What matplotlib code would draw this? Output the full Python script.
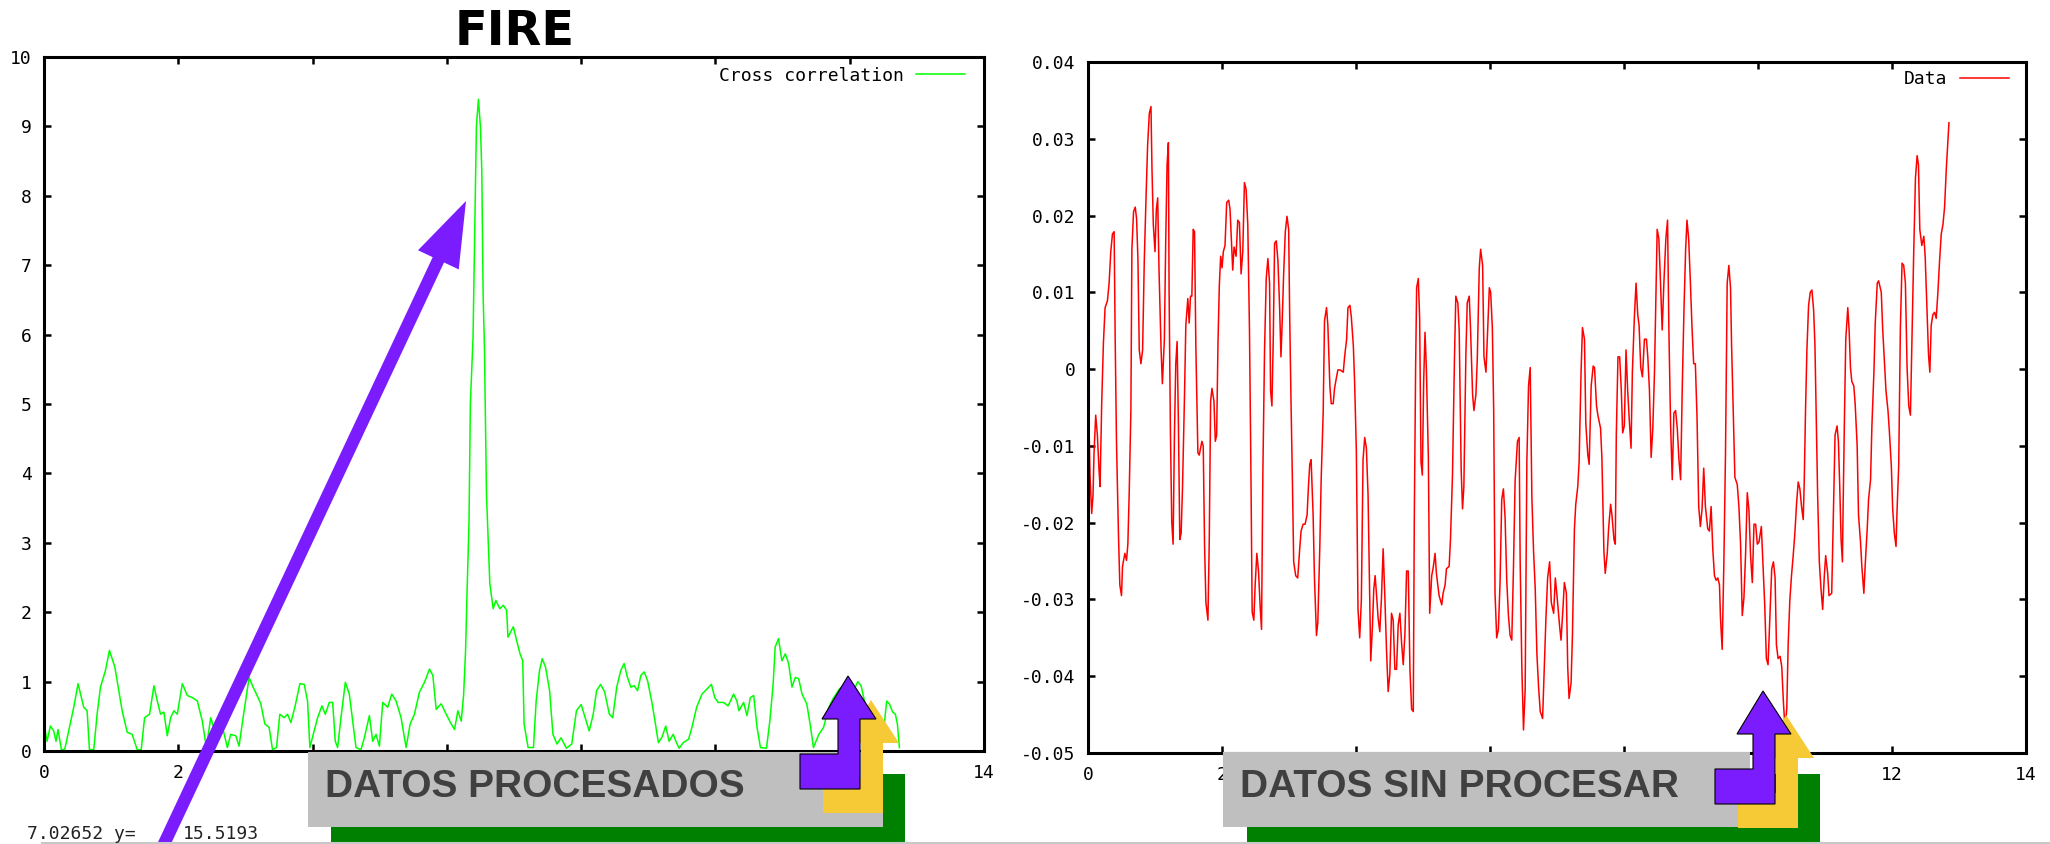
import matplotlib
matplotlib.use("Agg")
import matplotlib.pyplot as plt
from matplotlib.transforms import Affine2D
from matplotlib.patches import Rectangle, Polygon, FancyArrow
from matplotlib.lines import Line2D

# cross correlation (left panel)
corr_x = [0.000, 0.045, 0.095, 0.144, 0.179, 0.209, 0.259, 0.308, 0.378, 0.443,
          0.507, 0.592, 0.642, 0.677, 0.741, 0.791, 0.841, 0.915, 0.975, 1.055,
          1.114, 1.164, 1.239, 1.313, 1.388, 1.448, 1.498, 1.572, 1.637, 1.687,
          1.736, 1.786, 1.836, 1.886, 1.935, 1.985, 2.060, 2.134, 2.209, 2.284,
          2.358, 2.418, 2.483, 2.557, 2.647, 2.731, 2.781, 2.856, 2.905, 2.965,
          3.055, 3.114, 3.164, 3.229, 3.289, 3.353, 3.403, 3.463, 3.512, 3.577,
          3.627, 3.677, 3.736, 3.811, 3.876, 3.925, 3.960, 4.010, 4.075, 4.139,
          4.189, 4.249, 4.299, 4.338, 4.373, 4.423, 4.488, 4.547, 4.597, 4.647,
          4.721, 4.771, 4.846, 4.896, 4.945, 4.995, 5.045, 5.119, 5.179, 5.244,
          5.318, 5.393, 5.453, 5.517, 5.592, 5.667, 5.741, 5.791, 5.841, 5.915,
          5.990, 6.065, 6.114, 6.164, 6.214, 6.249, 6.279, 6.303, 6.330, 6.350,
          6.390, 6.410, 6.440, 6.470, 6.500, 6.520, 6.540, 6.560, 6.590, 6.640,
          6.690, 6.730, 6.790, 6.840, 6.890, 6.910, 6.990, 7.040, 7.090, 7.130,
          7.150, 7.210, 7.290, 7.330, 7.380, 7.420, 7.470, 7.530, 7.580, 7.640,
          7.700, 7.780, 7.860, 7.930, 8.000, 8.060, 8.120, 8.180, 8.230, 8.290,
          8.350, 8.420, 8.470, 8.530, 8.590, 8.640, 8.690, 8.740, 8.790, 8.840,
          8.890, 8.940, 8.990, 9.050, 9.100, 9.150, 9.200, 9.260, 9.310, 9.370,
          9.420, 9.460, 9.520, 9.600, 9.650, 9.720, 9.800, 9.870, 9.940, 9.990,
          10.040, 10.120, 10.190, 10.270, 10.320, 10.350, 10.420, 10.470, 10.520, 10.570,
          10.620, 10.670, 10.760, 10.810, 10.860, 10.890, 10.940, 10.990, 11.040, 11.090,
          11.140, 11.190, 11.240, 11.290, 11.360, 11.410, 11.460, 11.540, 11.610, 11.690,
          11.750, 11.850, 11.950, 12.050, 12.120, 12.170, 12.220, 12.300, 12.400, 12.490,
          12.550, 12.590, 12.640, 12.680, 12.710, 12.740]
corr_y = [0.39, 0.14, 0.36, 0.29, 0.14, 0.31, 0.02, 0.02, 0.34, 0.63,
          0.97, 0.63, 0.58, 0.02, 0.02, 0.53, 0.92, 1.16, 1.45, 1.21,
          0.87, 0.58, 0.27, 0.24, 0.02, 0.02, 0.48, 0.53, 0.94, 0.72,
          0.53, 0.56, 0.22, 0.48, 0.58, 0.53, 0.97, 0.80, 0.77, 0.72,
          0.43, 0.05, 0.48, 0.24, 0.39, 0.05, 0.24, 0.22, 0.07, 0.48,
          1.06, 0.92, 0.82, 0.68, 0.39, 0.34, 0.02, 0.05, 0.53, 0.48,
          0.53, 0.41, 0.63, 0.97, 0.96, 0.72, 0.05, 0.24, 0.48, 0.65,
          0.53, 0.70, 0.70, 0.14, 0.05, 0.48, 0.99, 0.82, 0.43, 0.05,
          0.02, 0.19, 0.51, 0.14, 0.24, 0.07, 0.70, 0.63, 0.82, 0.72,
          0.48, 0.05, 0.39, 0.53, 0.85, 0.99, 1.18, 1.09, 0.60, 0.68,
          0.53, 0.39, 0.31, 0.58, 0.43, 0.80, 1.45, 2.37, 3.30, 5.00,
          5.96, 7.20, 9.00, 9.39, 9.00, 8.38, 6.58, 5.80, 3.70, 2.41,
          2.05, 2.17, 2.05, 2.10, 2.03, 1.64, 1.79, 1.59, 1.40, 1.30,
          0.39, 0.05, 0.05, 0.72, 1.16, 1.33, 1.21, 0.87, 0.24, 0.10,
          0.19, 0.04, 0.10, 0.58, 0.67, 0.48, 0.29, 0.53, 0.87, 0.96,
          0.85, 0.53, 0.48, 0.92, 1.16, 1.26, 1.06, 0.92, 0.94, 0.87,
          1.09, 1.14, 1.01, 0.72, 0.43, 0.12, 0.19, 0.36, 0.14, 0.24,
          0.12, 0.04, 0.12, 0.17, 0.34, 0.63, 0.82, 0.89, 0.96, 0.77,
          0.70, 0.70, 0.65, 0.82, 0.72, 0.58, 0.70, 0.51, 0.77, 0.80,
          0.34, 0.05, 0.04, 0.43, 0.97, 1.50, 1.62, 1.30, 1.40, 1.26,
          0.92, 1.06, 1.04, 0.82, 0.68, 0.39, 0.05, 0.24, 0.34, 0.63,
          0.75, 0.90, 0.95, 0.85, 1.00, 0.94, 0.72, 0.45, 0.25, 0.14,
          0.72, 0.68, 0.56, 0.53, 0.39, 0.05]

# raw data (right panel)
data_x = [0.000, 0.005, 0.030, 0.055, 0.075, 0.090, 0.115, 0.140, 0.165, 0.180,
          0.205, 0.230, 0.255, 0.290, 0.315, 0.340, 0.365, 0.390, 0.405, 0.425,
          0.455, 0.475, 0.500, 0.515, 0.550, 0.575, 0.595, 0.615, 0.640, 0.655,
          0.680, 0.705, 0.725, 0.745, 0.765, 0.790, 0.815, 0.840, 0.865, 0.890,
          0.915, 0.940, 0.955, 0.975, 1.000, 1.020, 1.040, 1.060, 1.090, 1.110,
          1.140, 1.160, 1.180, 1.200, 1.210, 1.230, 1.250, 1.270, 1.290, 1.310,
          1.330, 1.350, 1.370, 1.390, 1.410, 1.440, 1.460, 1.490, 1.510, 1.530,
          1.550, 1.570, 1.590, 1.610, 1.640, 1.660, 1.700, 1.720, 1.740, 1.760,
          1.790, 1.810, 1.830, 1.850, 1.880, 1.900, 1.920, 1.940, 1.960, 1.980,
          2.000, 2.020, 2.045, 2.070, 2.100, 2.120, 2.140, 2.160, 2.180, 2.210,
          2.235, 2.260, 2.285, 2.310, 2.335, 2.360, 2.385, 2.410, 2.430, 2.450,
          2.475, 2.495, 2.520, 2.545, 2.570, 2.590, 2.610, 2.635, 2.660, 2.685,
          2.710, 2.725, 2.745, 2.765, 2.785, 2.810, 2.835, 2.860, 2.880, 2.900,
          2.920, 2.945, 2.970, 2.995, 3.010, 3.030, 3.050, 3.070, 3.100, 3.130,
          3.160, 3.180, 3.210, 3.240, 3.270, 3.290, 3.310, 3.330, 3.360, 3.380,
          3.410, 3.430, 3.460, 3.480, 3.510, 3.530, 3.560, 3.580, 3.610, 3.630,
          3.660, 3.680, 3.710, 3.730, 3.760, 3.810, 3.830, 3.860, 3.880, 3.910,
          3.930, 3.960, 3.980, 4.005, 4.030, 4.055, 4.080, 4.105, 4.130, 4.155,
          4.180, 4.205, 4.220, 4.245, 4.265, 4.285, 4.305, 4.330, 4.355, 4.380,
          4.405, 4.430, 4.455, 4.480, 4.505, 4.530, 4.555, 4.580, 4.605, 4.630,
          4.655, 4.680, 4.705, 4.730, 4.755, 4.780, 4.805, 4.830, 4.855, 4.870,
          4.890, 4.905, 4.930, 4.950, 4.970, 4.990, 5.010, 5.030, 5.050, 5.080,
          5.100, 5.130, 5.150, 5.180, 5.200, 5.240, 5.280, 5.300, 5.330, 5.350,
          5.390, 5.410, 5.440, 5.470, 5.490, 5.520, 5.540, 5.570, 5.590, 5.610,
          5.640, 5.660, 5.690, 5.710, 5.740, 5.760, 5.790, 5.810, 5.840, 5.860,
          5.890, 5.910, 5.940, 5.960, 5.990, 6.010, 6.035, 6.055, 6.075, 6.100,
          6.125, 6.150, 6.175, 6.200, 6.225, 6.250, 6.275, 6.300, 6.325, 6.350,
          6.375, 6.410, 6.435, 6.450, 6.475, 6.500, 6.525, 6.550, 6.575, 6.600,
          6.625, 6.650, 6.675, 6.700, 6.725, 6.750, 6.785, 6.810, 6.835, 6.860,
          6.890, 6.915, 6.950, 6.975, 7.000, 7.040, 7.060, 7.090, 7.110, 7.140,
          7.160, 7.180, 7.210, 7.230, 7.260, 7.280, 7.310, 7.330, 7.360, 7.380,
          7.410, 7.430, 7.460, 7.480, 7.510, 7.540, 7.560, 7.590, 7.610, 7.650,
          7.670, 7.700, 7.720, 7.750, 7.770, 7.800, 7.820, 7.850, 7.870, 7.885,
          7.910, 7.935, 7.960, 7.980, 8.005, 8.030, 8.055, 8.080, 8.105, 8.125,
          8.155, 8.180, 8.205, 8.225, 8.250, 8.275, 8.305, 8.335, 8.355, 8.380,
          8.405, 8.430, 8.455, 8.475, 8.495, 8.520, 8.540, 8.570, 8.595, 8.625,
          8.650, 8.670, 8.695, 8.720, 8.745, 8.770, 8.795, 8.820, 8.845, 8.870,
          8.895, 8.920, 8.940, 8.965, 8.990, 9.015, 9.040, 9.065, 9.090, 9.115,
          9.140, 9.165, 9.190, 9.215, 9.250, 9.275, 9.300, 9.325, 9.350, 9.375,
          9.400, 9.425, 9.440, 9.465, 9.490, 9.515, 9.540, 9.565, 9.590, 9.605,
          9.630, 9.655, 9.690, 9.715, 9.740, 9.765, 9.790, 9.815, 9.840, 9.865,
          9.890, 9.915, 9.940, 9.965, 9.990, 10.015, 10.050, 10.075, 10.100, 10.125,
          10.150, 10.175, 10.205, 10.230, 10.255, 10.275, 10.300, 10.330, 10.355, 10.380,
          10.405, 10.430, 10.450, 10.475, 10.500, 10.525, 10.550, 10.575, 10.600, 10.625,
          10.650, 10.675, 10.690, 10.710, 10.730, 10.755, 10.780, 10.805, 10.830, 10.850,
          10.870, 10.890, 10.915, 10.940, 10.965, 10.990, 11.010, 11.040, 11.060, 11.100,
          11.120, 11.150, 11.180, 11.200, 11.220, 11.240, 11.260, 11.270, 11.290, 11.310,
          11.340, 11.360, 11.380, 11.400, 11.430, 11.450, 11.480, 11.500, 11.530, 11.550,
          11.580, 11.600, 11.630, 11.650, 11.680, 11.700, 11.730, 11.750, 11.780, 11.800,
          11.840, 11.860, 11.890, 11.910, 11.940, 11.960, 11.990, 12.010, 12.035, 12.060,
          12.075, 12.100, 12.125, 12.150, 12.175, 12.200, 12.225, 12.250, 12.275, 12.300,
          12.325, 12.350, 12.375, 12.395, 12.415, 12.445, 12.475, 12.495, 12.520, 12.545,
          12.565, 12.585, 12.610, 12.635, 12.660, 12.685, 12.710, 12.735, 12.760, 12.785,
          12.810, 12.835, 12.850]
data_y = [0.0109, -0.0030, -0.0138, -0.0188, -0.0164, -0.0109, -0.0060, -0.0086, -0.0132, -0.0153,
          -0.0042, 0.0034, 0.0080, 0.0089, 0.0112, 0.0153, 0.0176, 0.0179, 0.0045, -0.0094,
          -0.0217, -0.0281, -0.0295, -0.0257, -0.0240, -0.0249, -0.0228, -0.0161, -0.0054, 0.0156,
          0.0205, 0.0211, 0.0196, 0.0144, 0.0025, 0.0007, 0.0025, 0.0141, 0.0220, 0.0292,
          0.0333, 0.0342, 0.0260, 0.0188, 0.0153, 0.0208, 0.0223, 0.0129, 0.0028, -0.0019,
          0.0039, 0.0167, 0.0266, 0.0295, 0.0106, -0.0080, -0.0199, -0.0228, -0.0086, 0.0007,
          0.0036, -0.0074, -0.0222, -0.0214, -0.0156, -0.0036, 0.0057, 0.0092, 0.0060, 0.0095,
          0.0095, 0.0182, 0.0179, 0.0028, -0.0109, -0.0112, -0.0094, -0.0100, -0.0231, -0.0304,
          -0.0327, -0.0222, -0.0042, -0.0025, -0.0042, -0.0094, -0.0086, 0.0034, 0.0109, 0.0147,
          0.0132, 0.0153, 0.0161, 0.0217, 0.0220, 0.0208, 0.0170, 0.0129, 0.0159, 0.0147,
          0.0194, 0.0191, 0.0124, 0.0153, 0.0243, 0.0234, 0.0188, 0.0051, -0.0118, -0.0316,
          -0.0327, -0.0281, -0.0240, -0.0263, -0.0310, -0.0339, -0.0135, 0.0025, 0.0118, 0.0144,
          0.0112, -0.0028, -0.0048, 0.0039, 0.0164, 0.0167, 0.0141, 0.0080, 0.0016, 0.0066,
          0.0124, 0.0179, 0.0199, 0.0182, 0.0071, -0.0042, -0.0141, -0.0251, -0.0269, -0.0272,
          -0.0234, -0.0211, -0.0202, -0.0202, -0.0190, -0.0153, -0.0124, -0.0118, -0.0190, -0.0272,
          -0.0347, -0.0330, -0.0231, -0.0144, -0.0057, 0.0063, 0.0080, 0.0057, -0.0022, -0.0045,
          -0.0045, -0.0025, -0.0010, -0.0001, -0.0001, -0.0004, 0.0016, 0.0039, 0.0080, 0.0083,
          0.0068, 0.0031, -0.0019, -0.0106, -0.0313, -0.0350, -0.0301, -0.0118, -0.0089, -0.0103,
          -0.0164, -0.0295, -0.0380, -0.0336, -0.0287, -0.0269, -0.0292, -0.0324, -0.0342, -0.0298,
          -0.0234, -0.0295, -0.0365, -0.0420, -0.0397, -0.0318, -0.0327, -0.0391, -0.0391, -0.0333,
          -0.0318, -0.0356, -0.0385, -0.0345, -0.0263, -0.0263, -0.0391, -0.0443, -0.0446, -0.0196,
          0.0004, 0.0106, 0.0118, 0.0066, -0.0121, -0.0138, -0.0016, 0.0048, 0.0002, -0.0115,
          -0.0318, -0.0269, -0.0260, -0.0240, -0.0266, -0.0295, -0.0307, -0.0292, -0.0281, -0.0260,
          -0.0257, -0.0222, -0.0138, 0.0016, 0.0095, 0.0086, 0.0051, -0.0132, -0.0182, -0.0153,
          0.0019, 0.0086, 0.0095, 0.0051, -0.0033, -0.0054, -0.0033, 0.0013, 0.0132, 0.0156,
          0.0135, 0.0016, -0.0004, 0.0039, 0.0106, 0.0100, 0.0054, -0.0054, -0.0292, -0.0350,
          -0.0339, -0.0278, -0.0170, -0.0156, -0.0193, -0.0275, -0.0321, -0.0347, -0.0353, -0.0260,
          -0.0145, -0.0094, -0.0089, -0.0249, -0.0388, -0.0470, -0.0417, -0.0121, -0.0022, 0.0002,
          -0.0167, -0.0237, -0.0286, -0.0371, -0.0414, -0.0446, -0.0455, -0.0388, -0.0324, -0.0272,
          -0.0251, -0.0304, -0.0318, -0.0272, -0.0295, -0.0336, -0.0353, -0.0310, -0.0278, -0.0292,
          -0.0388, -0.0429, -0.0409, -0.0348, -0.0208, -0.0176, -0.0153, -0.0121, -0.0001, 0.0054,
          0.0039, -0.0071, -0.0112, -0.0124, -0.0022, 0.0004, 0.0002, -0.0048, -0.0060, -0.0077,
          -0.0115, -0.0237, -0.0266, -0.0240, -0.0208, -0.0176, -0.0190, -0.0222, -0.0228, -0.0086,
          0.0016, 0.0016, -0.0028, -0.0083, -0.0074, 0.0025, -0.0028, -0.0068, -0.0103, -0.0004,
          0.0068, 0.0112, 0.0071, 0.0057, 0.0002, -0.0010, 0.0039, 0.0039, 0.0016, -0.0028,
          -0.0115, -0.0077, -0.0004, 0.0092, 0.0182, 0.0170, 0.0124, 0.0051, 0.0112, 0.0170,
          0.0194, 0.0051, -0.0071, -0.0144, -0.0057, -0.0054, -0.0077, -0.0118, -0.0144, -0.0022,
          0.0077, 0.0156, 0.0194, 0.0170, 0.0115, 0.0054, 0.0007, 0.0007, -0.0063, -0.0179,
          -0.0205, -0.0182, -0.0129, -0.0179, -0.0208, -0.0211, -0.0179, -0.0234, -0.0269, -0.0275,
          -0.0272, -0.0281, -0.0324, -0.0365, -0.0255, -0.0109, 0.0112, 0.0135, 0.0106, 0.0034,
          -0.0054, -0.0141, -0.0150, -0.0179, -0.0228, -0.0321, -0.0298, -0.0240, -0.0161, -0.0184,
          -0.0245, -0.0278, -0.0202, -0.0202, -0.0228, -0.0225, -0.0205, -0.0257, -0.0307, -0.0377,
          -0.0385, -0.0327, -0.0260, -0.0251, -0.0272, -0.0359, -0.0377, -0.0374, -0.0388, -0.0435,
          -0.0470, -0.0441, -0.0359, -0.0301, -0.0269, -0.0243, -0.0214, -0.0176, -0.0147, -0.0156,
          -0.0179, -0.0196, -0.0147, -0.0051, 0.0025, 0.0083, 0.0100, 0.0103, 0.0077, 0.0031,
          -0.0063, -0.0164, -0.0251, -0.0286, -0.0313, -0.0269, -0.0243, -0.0266, -0.0295, -0.0292,
          -0.0208, -0.0086, -0.0074, -0.0094, -0.0153, -0.0222, -0.0251, -0.0182, -0.0065, 0.0039,
          0.0080, 0.0051, 0.0002, -0.0016, -0.0022, -0.0045, -0.0100, -0.0190, -0.0225, -0.0257,
          -0.0292, -0.0255, -0.0208, -0.0170, -0.0144, -0.0074, -0.0004, 0.0060, 0.0112, 0.0115,
          0.0100, 0.0054, 0.0004, -0.0028, -0.0054, -0.0080, -0.0126, -0.0182, -0.0214, -0.0231,
          -0.0185, -0.0126, 0.0054, 0.0138, 0.0135, 0.0112, 0.0002, -0.0048, -0.0060, 0.0051,
          0.0156, 0.0249, 0.0278, 0.0266, 0.0182, 0.0161, 0.0173, 0.0147, 0.0083, 0.0019,
          -0.0004, 0.0057, 0.0071, 0.0074, 0.0066, 0.0100, 0.0141, 0.0176, 0.0188, 0.0211,
          0.0260, 0.0298, 0.0321]

x_ticks = [0, 2, 4, 6, 8, 10, 12, 14]
# labels under the gray boxes are not visible in the screenshot
left_xlabels = ["0", "2", "", "", "", "", "", "14"]
right_xlabels = ["0", "2", "", "", "", "", "12", "14"]
left_yticks = [0, 1, 2, 3, 4, 5, 6, 7, 8, 9, 10]
right_yticks = [-0.05, -0.04, -0.03, -0.02, -0.01, 0, 0.01, 0.02, 0.03, 0.04]
right_ylabels = ["-0.05", "-0.04", "-0.03", "-0.02", "-0.01", "0", "0.01", "0.02", "0.03", "0.04"]

W, H = 2050, 844
MONO = "DejaVu Sans Mono"
PURPLE = "#7B1CFF"
YELLOW = "#F6CA36"

plt.rcParams["font.family"] = MONO
plt.rcParams["axes.unicode_minus"] = False

fig = plt.figure(figsize=(W / 100, H / 100), dpi=100)
pix = Affine2D().scale(1.0 / W, -1.0 / H).translate(0, 1) + fig.transFigure


def place(x0, x1, ytop, ybot):
    return [x0 / W, 1 - ybot / H, (x1 - x0) / W, (ybot - ytop) / H]


def style(ax):
    for s in ax.spines.values():
        s.set_linewidth(2.2)
    ax.tick_params(direction="in", length=5, width=1.8, top=True, right=True,
                   labelsize=13, pad=9, colors="black")


ax1 = fig.add_axes(place(44, 984, 57, 751))
ax1.plot(corr_x, corr_y, color="#00FF00", lw=1.1, label="Cross correlation")
ax1.set_xlim(0, 14)
ax1.set_ylim(0, 10)
ax1.set_xticks(x_ticks)
ax1.set_xticklabels(left_xlabels)
ax1.set_yticks(left_yticks)
style(ax1)
ax1.legend(loc="upper right", bbox_to_anchor=(0.980, 0.986), frameon=False,
           markerfirst=False, handlelength=2.7, handletextpad=0.7, borderpad=0,
           borderaxespad=0, prop={"family": MONO, "size": 13})

ax2 = fig.add_axes(place(1088, 2026, 62, 753))
ax2.plot(data_x, data_y, color="#FF0000", lw=1.1, label="Data")
ax2.set_xlim(0, 14)
ax2.set_ylim(-0.05, 0.04)
ax2.set_xticks(x_ticks)
ax2.set_xticklabels(right_xlabels)
ax2.set_yticks(right_yticks)
ax2.set_yticklabels(right_ylabels)
style(ax2)
ax2.legend(loc="upper right", bbox_to_anchor=(0.982, 0.988), frameon=False,
           markerfirst=False, handlelength=2.7, handletextpad=0.7, borderpad=0,
           borderaxespad=0, prop={"family": MONO, "size": 13})

# title over the left panel
fig.text(515 / W, 1 - 45 / H, "FIRE", ha="center", va="baseline",
         fontsize=34.5, fontweight="bold", family="DejaVu Sans", color="black")

# status line and thin rule at the bottom
fig.add_artist(Line2D([42, W], [843, 843], transform=pix, color="#c8c8c8", lw=1.5))
fig.text(27 / W, 1 - 839 / H, "7.02652 y=", fontsize=13, family=MONO, color="#222222")
fig.text(183 / W, 1 - 839 / H, "15.5193", fontsize=13, family=MONO, color="#222222")

# labels with green and gray boxes
for gx0, gx1, bx0, bx1, tx, txt in [(331, 905, 308, 883, 325, "DATOS PROCESADOS"),
                                    (1247, 1820, 1223, 1750, 1240, "DATOS SIN PROCESAR")]:
    fig.add_artist(Rectangle((gx0, 774), gx1 - gx0, 80, transform=pix,
                             facecolor="#008000", edgecolor="none"))
    fig.add_artist(Rectangle((bx0, 752), bx1 - bx0, 75, transform=pix,
                             facecolor="#BFBFBF", edgecolor="none"))
    fig.text(tx / W, 1 - 797 / H, txt, fontsize=28, fontweight="bold",
             family="Liberation Sans", color="#404040", va="baseline")

# bent up-arrows with yellow shadow
elbow = [(0, 0), (60, 0), (60, -70), (76, -70), (48, -113), (22, -70),
         (38, -70), (38, -35), (0, -35)]
for ox, oy in [(800, 789), (1715, 804)]:
    shadow = [(ox + 23 + a, oy + 24 + b) for a, b in elbow]
    fig.add_artist(Polygon(shadow, closed=True, transform=pix,
                           facecolor=YELLOW, edgecolor="none"))
    front = [(ox + a, oy + b) for a, b in elbow]
    fig.add_artist(Polygon(front, closed=True, transform=pix,
                           facecolor=PURPLE, edgecolor="black", lw=0.8))

# big arrow pointing at the correlation peak
fig.add_artist(FancyArrow(156.5, 860, 309.5, -659, width=12.5, head_width=45,
                          head_length=65, length_includes_head=True,
                          transform=pix, facecolor=PURPLE, edgecolor="none"))

fig.savefig("out.png", dpi=100)
